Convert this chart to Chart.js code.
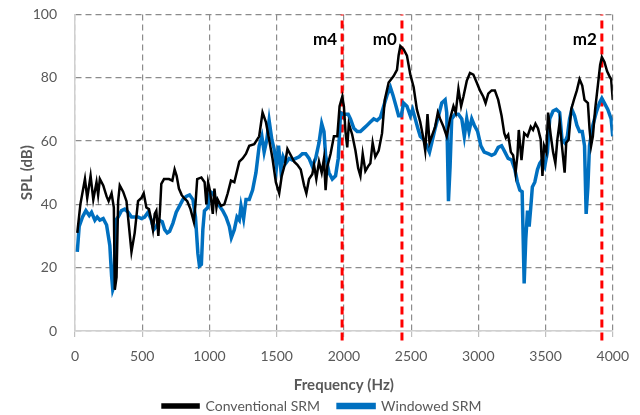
<!DOCTYPE html>
<html>
<head>
<meta charset="utf-8">
<script src="https://cdn.jsdelivr.net/npm/chart.js@4.4.1/dist/chart.umd.min.js"></script>
<style>
  html, body { margin: 0; padding: 0; background: #fff; }
  #wrap { width: 640px; height: 415px; }
</style>
</head>
<body>
<div id="wrap"><canvas id="myChart"></canvas></div>
<script>
// conventional SRM trace (Hz / dB)
const convFreq = [17, 40, 74, 91, 116, 136, 160, 172, 185, 210, 235, 250, 272, 289, 296, 309, 321, 333, 358, 383,
  420, 444, 469, 494, 511, 531, 550, 568, 580, 593, 605, 620, 632, 642, 662, 699, 724, 741, 756, 773,
  793, 810, 835, 859, 884, 896, 909, 940, 964, 977, 990, 1005, 1025, 1037, 1052, 1062, 1086, 1111, 1136, 1160,
  1185, 1202, 1222, 1247, 1272, 1296, 1333, 1370, 1395, 1420, 1444, 1469, 1494, 1519, 1538, 1563, 1580, 1605, 1630, 1654,
  1679, 1704, 1721, 1741, 1765, 1778, 1795, 1815, 1835, 1852, 1864, 1877, 1901, 1926, 1951, 1968, 1988, 2000, 2012, 2025,
  2037, 2062, 2086, 2106, 2123, 2140, 2160, 2180, 2197, 2214, 2234, 2259, 2284, 2304, 2333, 2370, 2395, 2407, 2420, 2444,
  2469, 2494, 2519, 2543, 2568, 2593, 2605, 2622, 2637, 2654, 2679, 2699, 2716, 2741, 2765, 2790, 2815, 2832, 2852, 2872,
  2889, 2914, 2938, 2963, 2988, 3012, 3037, 3054, 3074, 3099, 3123, 3148, 3173, 3193, 3205, 3222, 3242, 3259, 3277, 3291,
  3301, 3321, 3341, 3366, 3390, 3407, 3425, 3444, 3464, 3477, 3489, 3506, 3519, 3538, 3556, 3573, 3588, 3605, 3622, 3642,
  3654, 3672, 3691, 3711, 3733, 3753, 3773, 3790, 3815, 3827, 3839, 3852, 3869, 3889, 3906, 3919, 3938, 3958, 3975, 3988, 4000];
const convSpl = [31, 40, 48, 42, 49, 41.5, 47, 43, 48, 46, 42.5, 41, 43.5, 39, 13, 17, 41, 46, 44, 41,
  25, 31, 41, 42, 43.5, 39, 38.5, 35, 32, 37, 38, 30, 38, 46.5, 48, 48, 47.5, 51, 49, 45,
  43, 42, 41, 38.5, 34.5, 40, 48, 48.5, 47, 40, 47, 44, 37, 45, 39, 41.5, 39.5, 40, 43.5, 47.5,
  47, 50, 53.5, 54.5, 56, 58.5, 59, 61.5, 69, 66, 60.5, 54.5, 47, 43.5, 49, 53, 57.5, 55.5, 53.5, 52.5,
  51, 46, 43.5, 48, 49.5, 52.5, 48, 53.5, 50, 54.5, 44.5, 52, 56, 61.5, 61.5, 71, 74, 71, 63, 58,
  65.5, 62, 57, 51.5, 49, 56, 50.5, 52, 53, 59.5, 55, 57, 62.5, 73, 78.5, 80.5, 82.5, 87, 90, 89,
  87, 81, 77, 70, 66, 60.5, 57, 68.5, 59.5, 61.5, 64.5, 69, 67, 64.5, 61.5, 67, 71, 69, 76.5, 71,
  74, 79, 81.5, 81, 78.5, 76, 74, 72, 75, 76, 76, 73, 68, 62.5, 61, 62, 56.5, 55.5, 50, 55.5,
  63.5, 54, 62.5, 61.5, 64.5, 63.5, 65.5, 64, 60.5, 49, 58.5, 56.5, 69, 62, 56.5, 53, 60.5, 66, 58.5, 50,
  59.5, 60.5, 70, 73, 76, 79.5, 77.5, 73, 72, 64, 58.5, 61.5, 70, 77.5, 84, 86.5, 85, 82, 80.5, 79.5, 73];

// windowed SRM trace (Hz / dB)
const winFreq = [17, 31, 56, 81, 106, 123, 148, 165, 185, 210, 235, 259, 272, 281, 289, 304, 321, 346, 370, 395,
  420, 444, 469, 494, 518, 543, 568, 585, 605, 624, 649, 667, 686, 704, 728, 753, 778, 802, 827, 852,
  877, 896, 914, 926, 940, 951, 963, 988, 1005, 1025, 1049, 1074, 1099, 1123, 1148, 1163, 1185, 1205, 1222, 1235,
  1254, 1272, 1296, 1321, 1346, 1370, 1390, 1407, 1427, 1444, 1464, 1481, 1499, 1514, 1531, 1548, 1568, 1593, 1617, 1642,
  1667, 1691, 1716, 1741, 1765, 1790, 1815, 1835, 1852, 1864, 1889, 1914, 1938, 1958, 1968, 1975, 1993, 2012, 2032, 2049,
  2074, 2099, 2123, 2148, 2173, 2197, 2222, 2247, 2272, 2296, 2321, 2346, 2365, 2388, 2407, 2427, 2444, 2469, 2494, 2511,
  2531, 2550, 2568, 2593, 2617, 2637, 2654, 2679, 2704, 2728, 2753, 2765, 2778, 2790, 2802, 2827, 2852, 2877, 2896, 2914,
  2931, 2951, 2970, 2995, 3019, 3044, 3074, 3099, 3123, 3148, 3173, 3198, 3222, 3247, 3272, 3291, 3309, 3326, 3341, 3353,
  3366, 3378, 3390, 3402, 3420, 3440, 3457, 3474, 3494, 3514, 3531, 3556, 3580, 3605, 3622, 3642, 3662, 3679, 3696, 3716,
  3733, 3753, 3773, 3790, 3802, 3815, 3827, 3852, 3877, 3901, 3919, 3938, 3963, 3988, 4000];
const winSpl = [25, 33, 36, 38, 36.5, 37.5, 35, 36, 35, 35.5, 33.5, 27, 17.5, 13, 14, 35, 36, 38, 38.5, 37.5,
  36, 36, 36, 35.5, 36, 37.5, 35, 32, 33, 35, 34.5, 32, 31, 31.5, 34, 37.5, 39.5, 41.5, 42.5, 43,
  41.5, 36, 24.5, 20.5, 21, 32, 38, 39, 44, 43.5, 41.5, 39.5, 38, 36, 33, 29.5, 32, 36, 35, 39.5,
  35.5, 41.5, 41.5, 44.5, 50, 58.5, 61.5, 56.5, 60.5, 66.5, 60.5, 57.5, 52, 58.5, 51, 55, 53, 54.5, 54, 54.5,
  55, 56, 56, 54.5, 52, 54.5, 59.5, 65.5, 63, 55.5, 50, 48, 49, 54.5, 63, 69, 68.5, 68.5, 68.5, 67,
  64, 63, 63, 64, 65, 66, 67, 66.5, 67.5, 71, 74.5, 77, 74.5, 71, 68, 68, 72, 71, 68, 70,
  67, 64, 61.5, 60.5, 58.5, 56.5, 59.5, 64, 68, 72, 73, 69, 41, 52, 67, 68.5, 68.5, 67, 61.5, 67,
  63, 67, 65, 63, 58.5, 56.5, 56, 55.5, 56, 58, 58.5, 56.5, 54.5, 54, 51, 47, 44.5, 44, 15, 29,
  38, 33, 39, 45.5, 47, 51, 53, 54, 52, 56.5, 67, 69.5, 70, 69, 60.5, 59.5, 61.5, 67, 70, 68,
  65, 63, 63, 58.5, 37, 45.5, 58.5, 65, 69, 72, 73.5, 72, 70, 67, 61.5];

// mode markers
const markerFreq = [1987, 2432, 3919];
const markerLabels = ['m4', 'm0', 'm2'];

const xTicks = [0, 500, 1000, 1500, 2000, 2500, 3000, 3500, 4000];
const yTicks = [0, 20, 40, 60, 80, 100];

const toPts = (xs, ys) => xs.map((x, i) => ({x: x, y: ys[i]}));

const txt = '#595959';
const fam = "Lato, 'Open Sans', sans-serif";

const datasets = [
  {
    label: 'Conventional SRM',
    data: toPts(convFreq, convSpl),
    borderColor: '#000000',
    backgroundColor: '#000000',
    borderWidth: 2.5,
    pointRadius: 0,
    tension: 0
  },
  {
    label: 'Windowed SRM',
    data: toPts(winFreq, winSpl),
    borderColor: '#0070C0',
    backgroundColor: '#0070C0',
    borderWidth: 3.5,
    pointRadius: 0,
    tension: 0
  }
];

markerFreq.forEach((f, i) => {
  datasets.push({
    label: markerLabels[i],
    data: [{x: f, y: -3}, {x: f, y: 100}],
    borderColor: '#FF0000',
    borderWidth: 3,
    borderDash: [8, 5],
    pointRadius: 0,
    clip: false,
    isMarker: true
  });
});

const markerText = {
  id: 'markerText',
  afterDatasetsDraw(chart) {
    const c = chart.ctx;
    const xs = chart.scales.x;
    c.save();
    c.font = "bold 17px " + fam;
    c.fillStyle = '#000';
    c.textAlign = 'right';
    c.textBaseline = 'middle';
    markerFreq.forEach((f, i) => {
      c.fillText(markerLabels[i], xs.getPixelForValue(f) - 5, chart.chartArea.top + 25);
    });
    c.restore();
  }
};

const cfg = {
  type: 'line',
  data: { datasets: datasets },
  options: {
    responsive: true,
    maintainAspectRatio: false,
    animation: false,
    layout: { padding: { left: 12, right: 8, top: 0, bottom: -8 } },
    plugins: {
      legend: {
        position: 'bottom',
        labels: {
          color: txt,
          font: { family: fam, size: 14 },
          boxWidth: 36,
          boxHeight: 3,
          padding: 18,
          filter: (item, data) => !data.datasets[item.datasetIndex].isMarker
        }
      },
      tooltip: { enabled: false }
    },
    scales: {
      x: {
        type: 'linear',
        min: 0,
        max: 4000,
        afterBuildTicks: (s) => { s.ticks = xTicks.map(v => ({value: v})); },
        afterFit: (s) => { s.height = 50; },
        title: { display: true, text: 'Frequency (Hz)', color: txt, font: { family: fam, size: 15, weight: 'bold' }, padding: { top: 11, bottom: -13 } },
        ticks: { color: txt, font: { family: fam, size: 14 }, padding: 11, maxRotation: 0, callback: v => String(v) },
        grid: { color: '#8c8c8c', lineWidth: 1.2, tickLength: 6, tickColor: '#bfbfbf' },
        border: { color: '#d0d0d0', width: 1.5, dash: [6, 4] }
      },
      y: {
        min: 0,
        max: 100,
        afterBuildTicks: (s) => { s.ticks = yTicks.map(v => ({value: v})); },
        afterFit: (s) => { s.width = 63; },
        title: { display: true, text: 'SPL (dB)', color: txt, font: { family: fam, size: 15, weight: 'bold' }, padding: { top: 6, bottom: 0 } },
        ticks: { color: txt, font: { family: fam, size: 14 }, padding: 6, callback: v => String(v) },
        grid: { color: '#8c8c8c', lineWidth: 1.2, drawTicks: true, tickLength: 12, tickColor: 'rgba(0,0,0,0)' },
        border: { color: '#d0d0d0', width: 1.5, dash: [6, 4] }
      }
    }
  },
  plugins: [markerText]
};

let cht = new Chart(document.getElementById('myChart'), cfg);
</script>
</body>
</html>
